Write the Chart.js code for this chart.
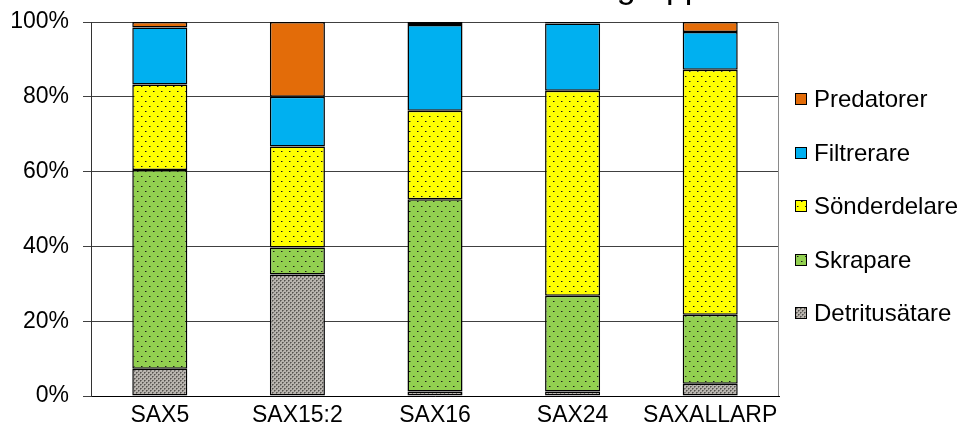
<!DOCTYPE html>
<html>
<head>
<meta charset="utf-8">
<script src="https://cdn.jsdelivr.net/npm/chart.js@4"></script>
<style>
  html, body { margin: 0; padding: 0; background: #fff; }
  #wrap { width: 960px; height: 434px; position: relative; overflow: hidden; }
</style>
</head>
<body>
<div id="wrap"><canvas id="c" width="960" height="434"></canvas></div>
<script>
// Sampling sites
const categories = ['SAX5', 'SAX15:2', 'SAX16', 'SAX24', 'SAXALLARP'];

// Share (%) of each functional feeding group per site
const detritusatare = [7.3, 32.5, 1.2, 1.2, 3.3];
const skrapare      = [53.1, 7.2, 51.4, 25.6, 18.4];
const sonderdelare  = [22.9, 27.0, 23.7, 54.8, 65.5];
const filtrerare    = [15.2, 13.3, 22.9, 18.0, 10.1];
const predatorer    = [1.5, 20.0, 0.8, 0.4, 2.7];

// Value axis ticks
const yTicks = [0, 20, 40, 60, 80, 100];

const titleText = 'Funktionella grupper';
const FONT = '"Liberation Sans", Arial, sans-serif';

const canvas = document.getElementById('c');
const ctx = canvas.getContext('2d');

// Small repeating fills for the textured groups
function tilePattern(base, w, h, dots) {
  const t = document.createElement('canvas');
  t.width = w; t.height = h;
  const g = t.getContext('2d');
  g.fillStyle = base;
  g.fillRect(0, 0, w, h);
  dots.forEach(([x, y, col]) => { g.fillStyle = col; g.fillRect(x, y, 1, 1); });
  return ctx.createPattern(t, 'repeat');
}

const yellowDots = tilePattern('#FFFF00', 8, 10, [
  [1, 1, '#111111'], [2, 1, '#8c8c2a'], [5, 6, '#111111'], [6, 6, '#8c8c2a']
]);
const greenDots = tilePattern('#92D050', 8, 10, [
  [1, 1, '#1a1a1a'], [2, 1, '#5a7a34'], [5, 6, '#1a1a1a'], [6, 6, '#5a7a34']
]);
const greyDense = tilePattern('#b8b4ae', 4, 4, [
  [0, 0, '#55524e'], [1, 0, '#7e7b76'], [0, 1, '#7e7b76'],
  [2, 2, '#55524e'], [3, 2, '#7e7b76'], [2, 3, '#7e7b76']
]);

// Legend at the right, top entry = top segment
const LEGEND_TOP = 99;
const LEGEND_STEP = 53.6;
const sideLegend = {
  id: 'sideLegend',
  afterDraw(chart) {
    const c = chart.ctx;
    const area = chart.chartArea;
    const items = chart.data.datasets.slice().reverse();
    c.save();
    c.font = '24px ' + FONT;
    c.textBaseline = 'middle';
    c.textAlign = 'left';
    items.forEach((ds, k) => {
      const y = Math.round(LEGEND_TOP + k * LEGEND_STEP);
      const x = Math.round(area.right + 16);
      c.fillStyle = ds.backgroundColor;
      c.fillRect(x, y - 6, 12, 12);
      c.strokeStyle = '#000';
      c.lineWidth = 1;
      c.strokeRect(x + 0.5, y - 5.5, 11, 11);
      c.fillStyle = '#000';
      c.fillText(ds.label, x + 19, y + 1);
    });
    c.restore();
  }
};

// Plot frame on the right side and the heading above the plot
const frameAndTitle = {
  id: 'frameAndTitle',
  beforeDatasetsDraw(chart) {
    const c = chart.ctx;
    const a = chart.chartArea;
    c.save();
    c.strokeStyle = '#8a8a8a';
    c.lineWidth = 1;
    c.beginPath();
    c.moveTo(Math.round(a.right) - 0.5, a.top);
    c.lineTo(Math.round(a.right) - 0.5, a.bottom);
    c.stroke();
    c.restore();
  },
  afterDraw(chart) {
    const c = chart.ctx;
    c.save();
    c.font = '34px ' + FONT;
    c.fillStyle = '#000';
    c.textAlign = 'left';
    c.textBaseline = 'alphabetic';
    c.fillText(titleText, 424, -2);
    c.restore();
  }
};

const barCommon = {
  borderColor: '#000',
  borderWidth: 1.5,
  borderSkipped: false,
  inflateAmount: 0,
  barPercentage: 0.4,
  categoryPercentage: 1.0
};

new Chart(ctx, {
  type: 'bar',
  data: {
    labels: categories,
    datasets: [
      Object.assign({ label: 'Detritusätare', data: detritusatare, backgroundColor: greyDense }, barCommon),
      Object.assign({ label: 'Skrapare', data: skrapare, backgroundColor: greenDots }, barCommon),
      Object.assign({ label: 'Sönderdelare', data: sonderdelare, backgroundColor: yellowDots }, barCommon),
      Object.assign({ label: 'Filtrerare', data: filtrerare, backgroundColor: '#00B0F0' }, barCommon),
      Object.assign({ label: 'Predatorer', data: predatorer, backgroundColor: '#E36C09' }, barCommon)
    ]
  },
  options: {
    responsive: false,
    animation: false,
    devicePixelRatio: 1,
    layout: { padding: { top: 22, right: 181, bottom: 0, left: 0 } },
    plugins: {
      legend: { display: false },
      tooltip: { enabled: false },
      title: { display: false }
    },
    scales: {
      x: {
        stacked: true,
        grid: { display: false, drawTicks: false },
        border: { display: true, color: '#000', width: 1 },
        ticks: {
          color: '#000',
          padding: 6,
          maxRotation: 0,
          minRotation: 0,
          autoSkip: false,
          font: { family: FONT, size: 23 }
        },
        afterFit(scale) {
          scale.height = 38;
          scale.paddingLeft = 0;
          scale.paddingRight = 0;
        }
      },
      y: {
        stacked: true,
        min: 0,
        max: 100,
        afterBuildTicks(scale) { scale.ticks = yTicks.map(v => ({ value: v })); },
        grid: { color: '#404040', lineWidth: 1, drawTicks: true, tickLength: 8 },
        border: { display: true, color: '#333', width: 1 },
        ticks: {
          color: '#000',
          padding: 14,
          font: { family: FONT, size: 23 },
          callback: v => v + '%'
        },
        afterFit(scale) {
          scale.width = 91;
          scale.paddingTop = 0;
          scale.paddingBottom = 0;
        }
      }
    }
  },
  plugins: [frameAndTitle, sideLegend]
});
</script>
</body>
</html>
